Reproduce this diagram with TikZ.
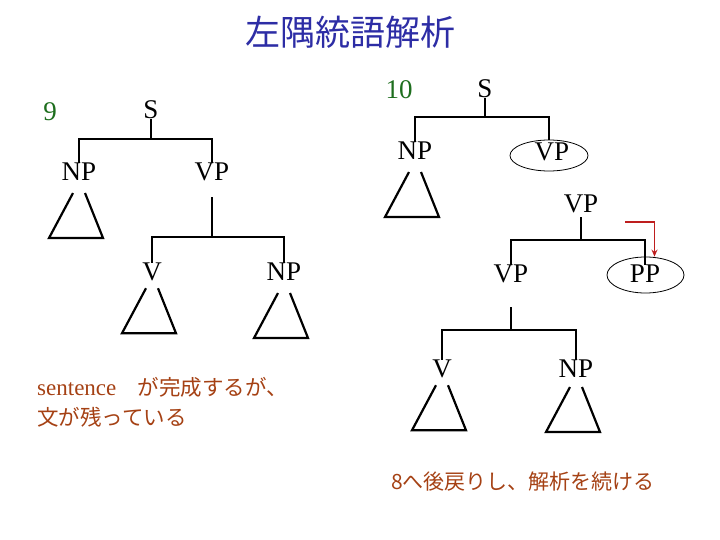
\documentclass[tikz,border=0pt]{standalone}
\usepackage{fontspec}
\setmainfont{Liberation Serif}
\newfontfamily\jpfont{Noto Sans CJK JP}
\usetikzlibrary{shapes.geometric, arrows.meta}
\definecolor{titleblue}{RGB}{45,45,165}
\definecolor{stepgreen}{RGB}{30,110,30}
\definecolor{notebrown}{RGB}{165,65,20}
\definecolor{markred}{RGB}{190,30,30}
\tikzset{
  cat/.style={font=\fontsize{27}{30}\selectfont, inner sep=0pt},
  stepno/.style={font=\fontsize{27}{30}\selectfont, text=stepgreen, inner sep=0pt},
  branch/.style={line width=2.2pt},
  circled/.style={draw, ellipse, line width=0.8pt, inner sep=0pt},
  subtree/.pic={\draw[line width=2.2pt] (-6,0) -- (-30,45) -- (24,45) -- (6,0);},
  note/.style={text=notebrown, inner sep=0pt, align=left}
}

\begin{document}
\begin{tikzpicture}[x=1pt, y=-1pt]
  \useasboundingbox (0,0) rectangle (720,540);
  \node[font=\jpfont\fontsize{35}{40}\selectfont, text=titleblue] (title) at (350,32) {左隅統語解析};

  % step 9
  \node[stepno] (no9) at (50,112) {9};
  \node[cat] (s9) at (151,110) {S};
  \node[cat] (np9) at (79,172) {NP};
  \node[cat] (vp9) at (212,172) {VP};
  \node[cat] (v9) at (152,272) {V};
  \node[cat] (np9b) at (284,272) {NP};
  \coordinate (b9) at (151,139);
  \coordinate (b9b) at (212,237);
  \draw[branch] (s9.south) -- (b9) -| (np9.north);
  \draw[branch] (b9) -| (vp9.north);
  \draw[branch] ([yshift=-16pt]vp9.south) -- (b9b) -| (v9.north);
  \draw[branch] (b9b) -| (np9b.north);
  \pic at ([yshift=-12pt]np9.south) {subtree};
  \pic at ([yshift=-7pt]v9.south) {subtree};
  \pic at ([yshift=-12pt]np9b.south) {subtree};
  \node[note, anchor=west, font=\jpfont\fontsize{21.5}{30}\selectfont] (note9) at (37,402)
    {{\rmfamily\fontsize{23}{30}\selectfont sentence}　が完成するが、\\文が残っている};

  % step 10
  \node[stepno] (no10) at (399,90) {10};
  \node[cat] (s10) at (485,89) {S};
  \node[cat] (np10) at (415,151) {NP};
  \node[cat] (vp10) at (552,152) {VP};
  \node[circled, minimum width=78pt, minimum height=31pt] (vp10o) at (549,155.5) {};
  \node[cat] (vp10r) at (581,204) {VP};
  \node[cat] (vp10c) at (511,274) {VP};
  \node[cat] (pp10) at (645,274) {PP};
  \node[circled, minimum width=77pt, minimum height=36pt] (pp10o) at (645.5,275) {};
  \node[cat] (v10) at (442,369) {V};
  \node[cat] (np10d) at (576,369) {NP};
  \coordinate (b10) at (485,117);
  \coordinate (b10b) at (581,240);
  \coordinate (b10c) at (511,330);
  \draw[branch] (s10.south) -- (b10) -| (np10.north);
  \draw[branch] (b10) -| (vp10o.north);
  \draw[branch] ([yshift=-4pt]vp10r.south) -- (b10b) -| (vp10c.north);
  \draw[branch] (b10b) -| (pp10.north);
  \draw[branch] ([yshift=-24pt]vp10c.south) -- (b10c) -| (v10.north);
  \draw[branch] (b10c) -| (np10d.north);
  \pic at ([yshift=-12pt]np10.south) {subtree};
  \pic at ([yshift=-7pt]v10.south) {subtree};
  \pic at ([yshift=-9pt]np10d.south) {subtree};
  \coordinate (arrtail) at (625,222);
  \draw[markred, line width=1.6pt, -{Stealth[length=7pt,width=6pt]}] (arrtail) -| ([xshift=9pt]pp10o.north);
  \node[note, anchor=west, font=\jpfont\fontsize{21}{25}\selectfont] (note10) at (391,482) {8へ後戻りし、解析を続ける};
\end{tikzpicture}
\end{document}
